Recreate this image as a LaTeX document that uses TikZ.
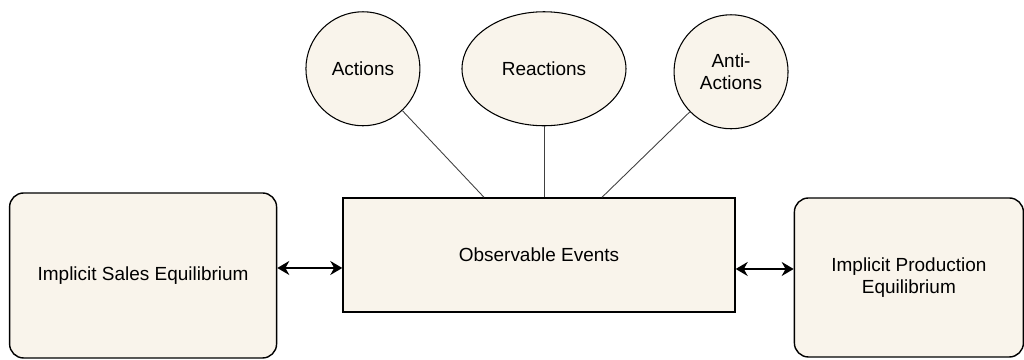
\documentclass[tikz,border=0pt]{standalone}
\usepackage{fontspec}
\setmainfont{Liberation Sans}
\usetikzlibrary{arrows.meta, positioning, shapes.geometric}
\definecolor{cream}{RGB}{249,244,235}
\tikzset{%
	event/.style={draw, rectangle, minimum width=7.84cm, minimum height=2.28cm,%
		inner sep=0mm, line width=0.8pt, fill=cream},
	eqbox/.style={draw, rectangle, rounded corners=8pt, inner sep=0mm,%
		line width=0.8pt, fill=cream, align=center},
	bubble/.style={draw, circle, minimum size=2.28cm, inner sep=0mm,%
		line width=0.6pt, fill=cream, align=center},
	oval/.style={draw, ellipse, minimum width=3.28cm, minimum height=2.28cm,%
		inner sep=0mm, line width=0.6pt, fill=cream},
	tie/.style={draw=black!75, line width=0.5pt},
	link/.style={{Stealth[length=2.4mm, width=2.8mm]}-{Stealth[length=2.4mm, width=2.8mm]}, line width=1pt}
}

\begin{document}
\begin{tikzpicture}[font=\fontsize{10.8}{12.5}\selectfont]
	\useasboundingbox (-10.78,-2.1) rectangle (9.70,5.10);

	\node[event]                                (ev)     {Observable Events};
	\node[eqbox, minimum width=5.34cm, minimum height=3.3cm,
		left=1.3cm of ev, yshift=-0.41cm]       (sales)  {Implicit Sales Equilibrium};
	\node[eqbox, minimum width=4.58cm, minimum height=3.18cm,
		right=1.16cm of ev, yshift=-0.45cm]     (prod)   {Implicit Production\\Equilibrium};

	\node[oval, above=1.42cm of ev, xshift=0.1cm] (react) {Reactions};
	\node[bubble, left=0.82cm of react]         (act)    {Actions};
	\node[bubble, right=0.94cm of react, yshift=-0.06cm] (anti) {Anti-\\Actions};

	\draw[tie] (act) -- ([xshift=-1.1cm]ev.north);
	\draw[tie] (react.south) -- (react.south |- ev.north);
	\draw[tie] (anti) -- ([xshift=1.26cm]ev.north);

	\draw[link] ([yshift=0.15cm]sales.east) -- ([yshift=-0.26cm]ev.west);
	\draw[link] ([yshift=-0.28cm]ev.east) -- ([yshift=0.17cm]prod.west);
\end{tikzpicture}
\end{document}
